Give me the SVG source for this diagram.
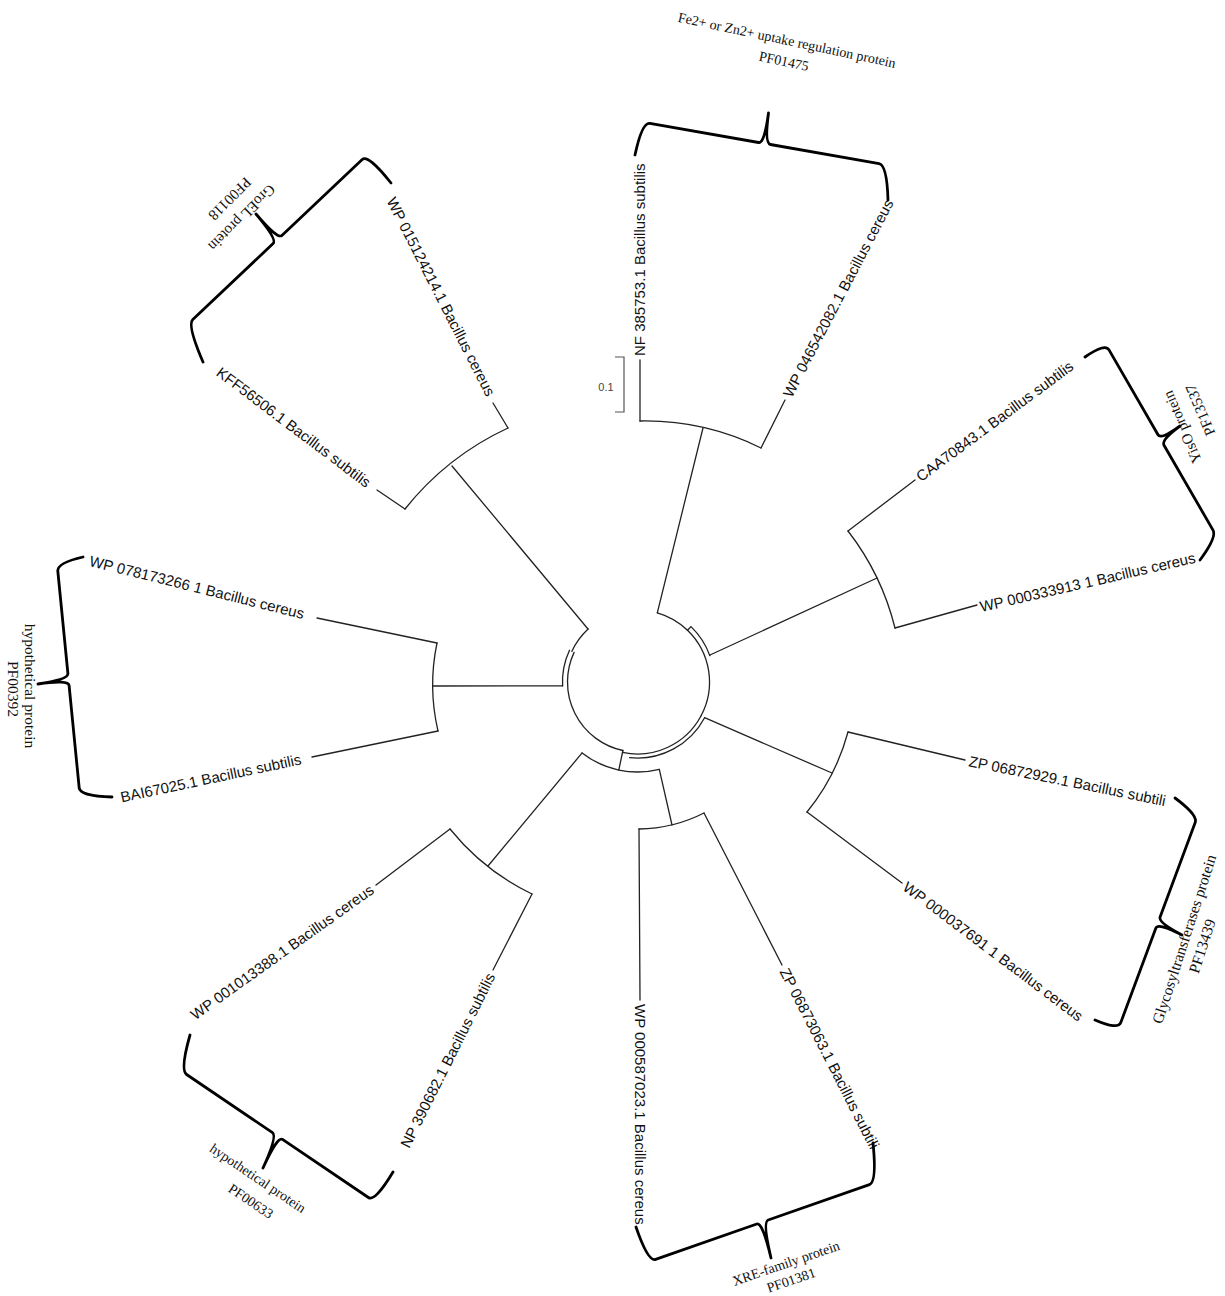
<svg xmlns="http://www.w3.org/2000/svg" width="1225" height="1296" viewBox="0 0 1225 1296">
<style>
.tr{fill:none;stroke:#222;stroke-width:1.3;stroke-linecap:round}
.br{fill:none;stroke:#000;stroke-width:2.8;stroke-linecap:round;stroke-linejoin:round}
.lb{font-family:"Liberation Sans",Arial,sans-serif;font-size:15px;fill:#111}
.cl{font-family:"Liberation Serif","Times New Roman",serif;font-size:14px;fill:#111;text-anchor:middle}
.sc{font-family:"Liberation Sans",Arial,sans-serif;font-size:11px;fill:#444;text-anchor:middle}
</style>
<rect width="1225" height="1296" fill="#fff"/>
<g id="connectors">
  <path class="tr" d="M588.1 629 A72.5 72.5 0 0 0 571.8 651.4"/>
  <path class="tr" d="M569.5 650.3 A75 75 0 0 0 562.6 685.9"/>
  <path class="tr" d="M574.1 652.4 A70 70 0 0 0 622.9 750.5"/>
  <path class="tr" d="M622.9 750.5 L618.8 770"/>
  <path class="tr" d="M582.1 752.9 A90 90 0 0 0 659.3 769.3"/>
  <path class="tr" d="M622.5 752.4 A72 72 0 0 0 701.1 715.8"/>
  <path class="tr" d="M629.6 757.6 A76 76 0 0 0 704.6 717.7"/>
  <path class="tr" d="M701.1 715.8 A72 72 0 0 0 687.5 630.2"/>
  <path class="tr" d="M687.5 630.2 L691 626.6 A77 77 0 0 1 709.9 655.7"/>
  <path class="tr" d="M687.5 630.2 A72 72 0 0 0 657.3 612.8"/>
  <path class="tr" d="M588 629 L452 466"/>
  <path class="tr" d="M405 509 A285 285 0 0 1 508 428"/>
  <path class="tr" d="M405 509 L377 490 M508 428 L493 403"/>
  <path class="tr" d="M657.3 612.8 L703 428"/>
  <path class="tr" d="M640 421 A262 262 0 0 1 761 448"/>
  <path class="tr" d="M640 421 L640 360 M761 448 L785 400"/>
  <path class="tr" d="M710 655 L877 578"/>
  <path class="tr" d="M848 531 A261 261 0 0 1 895 628"/>
  <path class="tr" d="M848 531 L915 480 M895 628 L977 605"/>
  <path class="tr" d="M704.6 717.7 L832 773"/>
  <path class="tr" d="M848 732 A215 215 0 0 1 807 812"/>
  <path class="tr" d="M848 732 L965 760 M807 812 L902 883"/>
  <path class="tr" d="M659.3 769.3 L672 825"/>
  <path class="tr" d="M639 829 A147 147 0 0 0 704 813"/>
  <path class="tr" d="M639 829 L640 1000 M704 813 L782 965"/>
  <path class="tr" d="M582.1 752.9 L488 866"/>
  <path class="tr" d="M450 829 A238 238 0 0 0 532 894"/>
  <path class="tr" d="M450 829 L376 885 M532 894 L493 970"/>
  <path class="tr" d="M562.6 685.9 L433 686"/>
  <path class="tr" d="M437 643 A204 204 0 0 0 438 731"/>
  <path class="tr" d="M437 643 L317 618 M438 731 L312 757"/>
</g>
<g id="scale">
  <path fill="none" stroke="#555" stroke-width="1.2" d="M615 357 L624 357 L624 412 L615 412"/>
  <text class="sc" x="606" y="391">0.1</text>
</g>
<g id="leaf-NF385753">
  <text class="lb" transform="translate(640,356) rotate(-90)" dy=".35em">NF 385753.1 Bacillus subtilis</text>
</g>
<g id="leaf-WP046542082">
  <text class="lb" transform="translate(787,396) rotate(-62.4)" dy=".35em">WP 046542082.1 Bacillus cereus</text>
</g>
<g id="leaf-CAA70843">
  <text class="lb" transform="translate(918,478) rotate(-36.5)" dy=".35em">CAA70843.1 Bacillus subtilis</text>
</g>
<g id="leaf-WP000333913">
  <text class="lb" transform="translate(980,607) rotate(-13)" dy=".35em">WP 000333913 1 Bacillus cereus</text>
</g>
<g id="leaf-ZP06872929">
  <text class="lb" transform="translate(969,761) rotate(11.5)" dy=".35em">ZP 06872929.1 Bacillus subtili</text>
</g>
<g id="leaf-WP000037691">
  <text class="lb" transform="translate(905,885) rotate(37)" dy=".35em">WP 000037691 1 Bacillus cereus</text>
</g>
<g id="leaf-ZP06873063">
  <text class="lb" transform="translate(784,969) rotate(63)" dy=".35em">ZP 06873063.1 Bacillus subtili</text>
</g>
<g id="leaf-WP000587023">
  <text class="lb" transform="translate(640,1004) rotate(90)" dy=".35em">WP 000587023.1 Bacillus cereus</text>
</g>
<g id="leaf-NP390682">
  <text class="lb" text-anchor="end" transform="translate(491,974) rotate(-63.4)" dy=".35em">NP 390682.1 Bacillus subtilis</text>
</g>
<g id="leaf-WP001013388">
  <text class="lb" text-anchor="end" transform="translate(372,888) rotate(-35.5)" dy=".35em">WP 001013388.1 Bacillus cereus</text>
</g>
<g id="leaf-BAI67025">
  <text class="lb" text-anchor="end" transform="translate(301,759) rotate(-12)" dy=".35em">BAI67025.1 Bacillus subtilis</text>
</g>
<g id="leaf-WP078173266">
  <text class="lb" text-anchor="end" transform="translate(304,614) rotate(14)" dy=".35em">WP 078173266 1 Bacillus cereus</text>
</g>
<g id="leaf-KFF56506">
  <text class="lb" text-anchor="end" transform="translate(369,484) rotate(37)" dy=".35em">KFF56506.1 Bacillus subtilis</text>
</g>
<g id="leaf-WP015124214">
  <text class="lb" text-anchor="end" transform="translate(491,395) rotate(63)" dy=".35em">WP 015124214.1 Bacillus cereus</text>
</g>
<g id="clade-PF01475">
  <path class="br" d="M635 155 Q642 122 649.9 123.4 L758.6 142.5 Q764.5 143.5 768.5 113 Q764.5 143.5 770.4 144.5 L879.1 163.6 Q887 165 888 200"/>
  <text class="cl" transform="translate(787,40) rotate(12)" dy=".35em">Fe2+ or Zn2+ uptake regulation protein</text>
  <text class="cl" transform="translate(784,61) rotate(12)" dy=".35em">PF01475</text>
</g>
<g id="clade-PF00118">
  <path class="br" d="M391 183 Q368 154 362.2 159.5 L281.9 235.4 Q277.5 239.5 256 214 Q277.5 239.5 273.1 243.6 L192.8 319.5 Q187 325 203 362"/>
  <text class="cl" style="font-size:15px" transform="translate(242,218) rotate(135)" dy=".35em">GroEL protein</text>
  <text class="cl" style="font-size:15px" transform="translate(230,199) rotate(135)" dy=".35em">PF00118</text>
</g>
<g id="clade-PF13537">
  <path class="br" d="M1085 357 Q1105 343 1109 349.9 L1158 434.8 Q1161 440 1180 426 Q1161 440 1164 445.2 L1213 530.1 Q1217 537 1200 560"/>
  <text class="cl" style="font-size:15px" transform="translate(1182,427) rotate(-113)" dy=".35em">YisO protein</text>
  <text class="cl" style="font-size:15px" transform="translate(1200,410) rotate(-113)" dy=".35em">PF13537</text>
</g>
<g id="clade-PF13439">
  <path class="br" d="M1175 798 Q1198 815 1195.2 822.5 L1160.1 916.9 Q1158 922.5 1182 935 Q1158 922.5 1155.9 928.1 L1120.8 1022.5 Q1118 1030 1095 1020"/>
  <text class="cl" style="font-size:15.5px" transform="translate(1184,939) rotate(-72)" dy=".35em">Glycosyltransferases protein</text>
  <text class="cl" style="font-size:15.5px" transform="translate(1202,946) rotate(-72)" dy=".35em">PF13439</text>
</g>
<g id="clade-PF01381">
  <path class="br" d="M636 1227 Q648 1262 655.6 1259.4 L756.8 1224 Q762.5 1222 771 1258 Q762.5 1222 768.2 1220 L869.4 1184.6 Q877 1182 873 1143"/>
  <text class="cl" transform="translate(786,1263) rotate(-19)" dy=".35em">XRE-family protein</text>
  <text class="cl" transform="translate(791,1280) rotate(-19)" dy=".35em">PF01381</text>
</g>
<g id="clade-PF00633">
  <path class="br" d="M190 1035 Q180 1070 186.6 1074.5 L272.5 1132.6 Q277.5 1136 263 1168 Q277.5 1136 282.5 1139.4 L368.4 1197.5 Q375 1202 393 1172"/>
  <text class="cl" style="font-size:14px" transform="translate(258,1178) rotate(34)" dy=".35em">hypothetical protein</text>
  <text class="cl" style="font-size:14px" transform="translate(251,1201) rotate(34)" dy=".35em">PF00633</text>
</g>
<g id="clade-PF00392">
  <path class="br" d="M83 557 Q57 563 57.8 571 L67.9 673.5 Q68.5 679.5 38 684 Q68.5 679.5 69.1 685.5 L79.2 788 Q80 796 112 797"/>
  <text class="cl" style="font-size:15.5px" transform="translate(30,686) rotate(90)" dy=".35em">hypothetical protein</text>
  <text class="cl" style="font-size:15.5px" transform="translate(13,689) rotate(90)" dy=".35em">PF00392</text>
</g>
</svg>
